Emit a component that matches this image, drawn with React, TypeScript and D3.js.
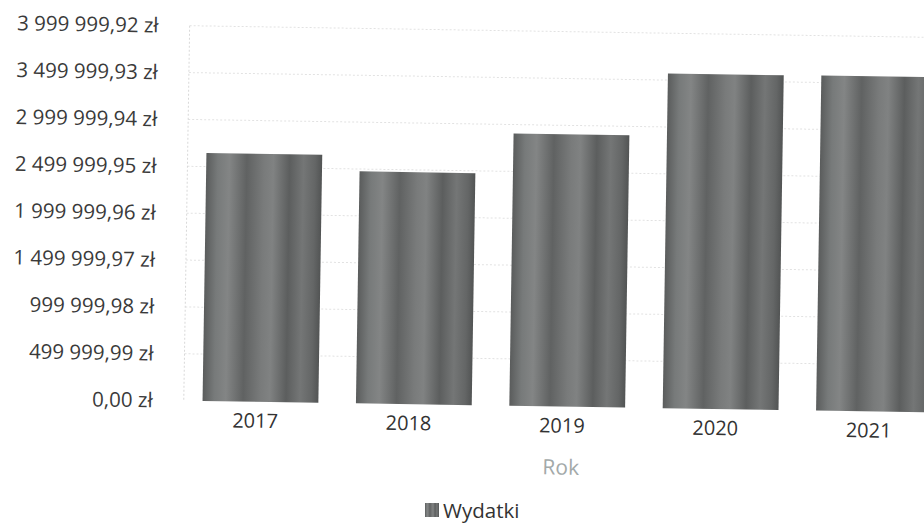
import React from "react";
import * as d3 from "d3";

const years = ["2017", "2018", "2019", "2020", "2021"];
const wydatki = [2645000, 2475000, 2905000, 3570000, 3575000];
const yMax = 3999999.92;
const tickValues = [0, 499999.99, 999999.98, 1499999.97, 1999999.96, 2499999.95, 2999999.94, 3499999.93, 3999999.92];
const tickLabels = ["0,00 zł", "499 999,99 zł", "999 999,98 zł", "1 499 999,97 zł", "1 999 999,96 zł", "2 499 999,95 zł", "2 999 999,94 zł", "3 499 999,93 zł", "3 999 999,92 zł"];
const xTitle = "Rok";
const seriesName = "Wydatki";

const W = 924;
const H = 523;
const FONT = "'Open Sans', 'DejaVu Sans', sans-serif";

export default function App() {
  const x = d3.scaleBand<string>().domain(years).range([186, 953]).paddingInner(0.245).paddingOuter(0.1225);
  const y = d3.scaleLinear().domain([0, yMax]).range([405, 30]);
  const stops: [number, string][] = [
    [0, "#5a5c5c"], [0.1, "#777a7a"], [0.2, "#838585"], [0.35, "#606262"], [0.5, "#797b7b"],
    [0.58, "#808282"], [0.72, "#5c5e5e"], [0.84, "#747676"], [0.94, "#646666"], [1, "#525454"],
  ];
  return (
    <svg width={W} height={H} style={{ position: "absolute", left: 0, top: 0, background: "#fff" }}>
      <defs>
        <linearGradient id="barGrad" x1="0" x2="1" y1="0" y2="0">
          {stops.map(([o, c], i) => (
            <stop key={i} offset={o} stopColor={c} />
          ))}
        </linearGradient>
      </defs>
      <rect width={W} height={H} fill="#fff" />
      <g transform="rotate(0.9 462 260)">
        {tickValues.map((t, i) => (
          <g key={i}>
            {i > 0 && (
              <line x1={186} x2={W + 30} y1={y(t)} y2={y(t)} stroke="#e2e2e2" strokeDasharray="2,2" />
            )}
            <text x={155} y={y(t)} dy="0.35em" textAnchor="end" fontFamily={FONT} fontSize={20.5} fill="#3a3a3a">
              {tickLabels[i]}
            </text>
          </g>
        ))}
        <line x1={186} x2={186} y1={y(yMax)} y2={y(0)} stroke="#d8d8d8" strokeDasharray="2,2" />
        {years.map((yr, i) => (
          <rect key={yr} x={x(yr)} y={y(wydatki[i])} width={x.bandwidth()} height={y(0) - y(wydatki[i])} fill="url(#barGrad)" />
        ))}
        {years.map((yr) => (
          <text key={yr} x={(x(yr) as number) + x.bandwidth() / 2 - 5} y={431} textAnchor="middle" fontFamily={FONT} fontSize={20} fill="#333">
            {yr}
          </text>
        ))}
        <text x={564} y={473} textAnchor="middle" fontFamily={FONT} fontSize={21} fill="#a3a9a9">
          {xTitle}
        </text>
      </g>
      <rect x={425} y={503} width={14} height={14} fill="url(#barGrad)" />
      <text x={443} y={518} fontFamily={FONT} fontSize={20.5} fill="#333">
        {seriesName}
      </text>
    </svg>
  );
}
